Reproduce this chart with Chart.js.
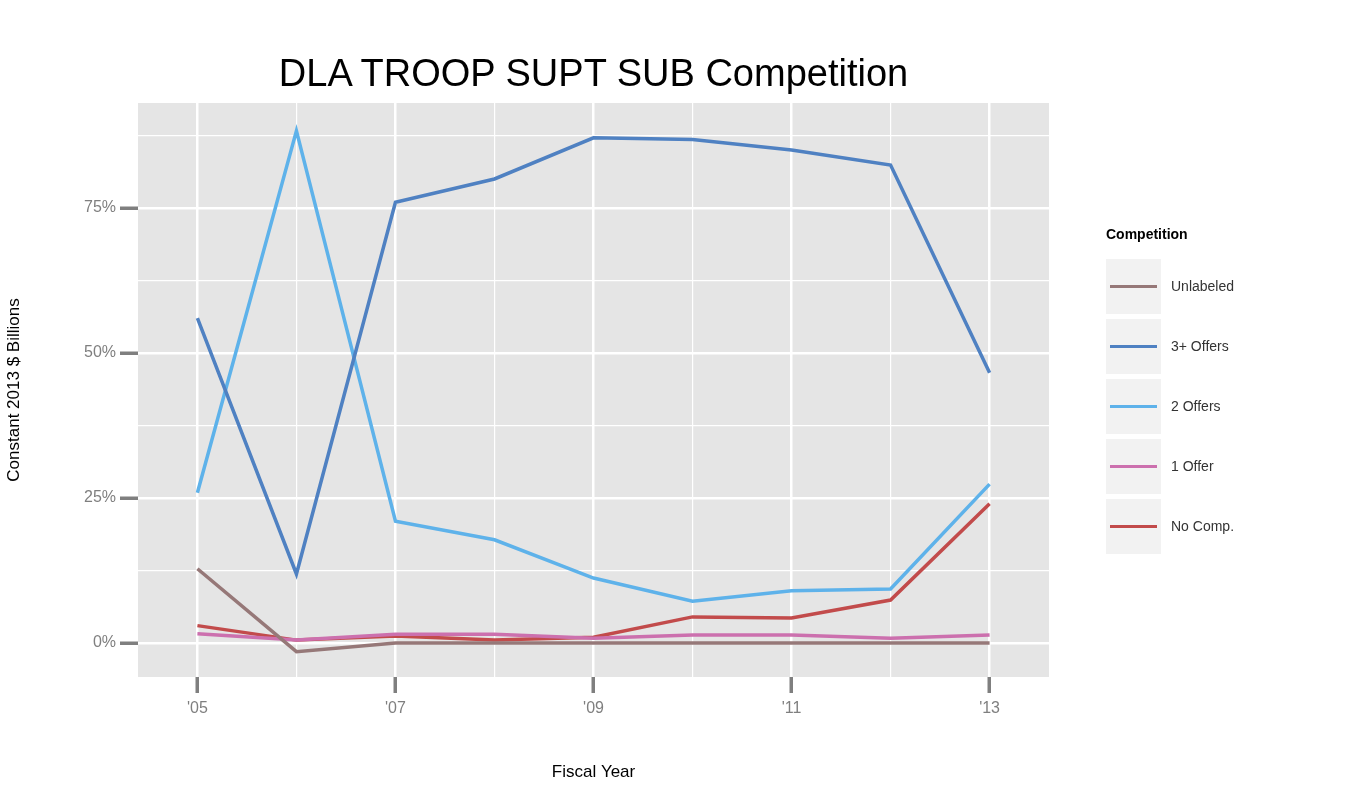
<!doctype html>
<html lang="en">
<head>
<meta charset="utf-8">
<title>DLA TROOP SUPT SUB Competition</title>
<script src="https://cdn.jsdelivr.net/npm/chart.js@4.4.1/dist/chart.umd.min.js"></script>
<style>
  body { margin:0; background:#fff; font-family:"Liberation Sans", Arial, sans-serif; }
  #wrap { position:relative; width:1350px; height:787px; }
  #title { position:absolute; left:138px; width:911px; top:52px; text-align:center; font-size:38px; color:#000; }
  #legend { position:absolute; left:1106px; top:226px; font-size:14px; color:#333; }
  #legend .hd { font-weight:bold; font-size:14px; color:#000; margin-bottom:14px; }
  #legend .it { display:flex; align-items:center; height:60px; }
  #legend .sw { width:55px; height:55px; background:#f2f2f2; position:relative; margin-right:10px; }
  #legend .sw i { position:absolute; left:4px; right:4px; top:26px; height:3.5px; }
</style>
</head>
<body>
<div id="wrap">
  <canvas id="c"></canvas>
  <div id="title">DLA TROOP SUPT SUB Competition</div>
  <div id="legend"><div class="hd">Competition</div></div>
</div>
<script>
// data
var years = [2005, 2006, 2007, 2008, 2009, 2010, 2011, 2012, 2013];
var unlabeled = [12.8, -1.5, 0, 0, 0, 0, 0, 0, 0];
var offers3 = [56, 11.9, 76, 80, 87.1, 86.8, 85, 82.4, 46.6];
var offers2 = [25.9, 88.3, 21, 17.8, 11.2, 7.2, 9, 9.3, 27.4];
var offer1 = [1.6, 0.5, 1.5, 1.5, 0.8, 1.4, 1.4, 0.8, 1.4];
var noComp = [3, 0.5, 1.2, 0.5, 1.0, 4.5, 4.3, 7.4, 24];
var yTicks = [0, 12.5, 25, 37.5, 50, 62.5, 75, 87.5];

var series = [
  {label:"Unlabeled", data:unlabeled, color:"#967878"},
  {label:"3+ Offers", data:offers3, color:"#4F81C2"},
  {label:"2 Offers", data:offers2, color:"#5EB2EA"},
  {label:"1 Offer", data:offer1, color:"#CC70AE"},
  {label:"No Comp.", data:noComp, color:"#C24B4B"}
];

var dsets = series.map(function(s){
  return {label:s.label, data:s.data.map(function(v,i){ return {x:years[i], y:v}; }),
    borderColor:s.color, backgroundColor:s.color, borderWidth:3.5, pointRadius:0, tension:0};
});

series.forEach(function(s){
  var d = document.createElement("div"); d.className = "it";
  d.innerHTML = '<div class="sw"><i style="background:' + s.color + '"></i></div>' + s.label;
  document.getElementById("legend").appendChild(d);
});

var bgPlugin = {
  id:"bg",
  beforeDraw:function(chart){
    var a = chart.chartArea, ctx = chart.ctx;
    ctx.save(); ctx.fillStyle = "#E5E5E5";
    ctx.fillRect(a.left, a.top, a.right-a.left, a.bottom-a.top);
    ctx.restore();
  }
};

var c = document.getElementById("c");
c.width = 1350; c.height = 787;
new Chart(c, {
  type:"line",
  data:{ datasets:dsets },
  plugins:[bgPlugin],
  options:{
    responsive:false, animation:false,
    layout:{ padding:{ left:0, right:301, top:103, bottom:0 } },
    plugins:{ legend:{display:false}, tooltip:{enabled:false} },
    scales:{
      x:{
        type:"linear", min:2004.4, max:2013.6,
        afterBuildTicks:function(ax){ ax.ticks = years.map(function(v){ return {value:v}; }); },
        afterFit:function(ax){ ax.height = 110; },
        border:{display:false},
        grid:{
          color:"#ffffff",
          lineWidth:function(ctx){ return ctx.tick && ctx.tick.value % 2 === 1 ? 2.5 : 1.2; },
          tickColor:function(ctx){ return ctx.tick && ctx.tick.value % 2 === 1 ? "#7f7f7f" : "rgba(0,0,0,0)"; },
          tickWidth:3.5, tickLength:16
        },
        ticks:{
          color:"#7f7f7f", font:{size:16, family:"Liberation Sans"}, maxRotation:0, autoSkip:false, padding:6,
          callback:function(v){ return v % 2 === 1 ? "'" + String(v).slice(2) : ""; }
        },
        title:{ display:true, text:"Fiscal Year", color:"#000", font:{size:17, family:"Liberation Sans"}, padding:{top:2} }
      },
      y:{
        min:-5.86, max:93.1,
        afterBuildTicks:function(ax){ ax.ticks = yTicks.map(function(v){ return {value:v}; }); },
        afterFit:function(ax){ ax.width = 138; },
        border:{display:false},
        grid:{
          color:"#ffffff",
          lineWidth:function(ctx){ return ctx.tick && ctx.tick.value % 25 === 0 ? 2.5 : 1.2; },
          tickColor:function(ctx){ return ctx.tick && ctx.tick.value % 25 === 0 ? "#7f7f7f" : "rgba(0,0,0,0)"; },
          tickWidth:3.5, tickLength:18
        },
        ticks:{
          color:"#7f7f7f", font:{size:16, family:"Liberation Sans"}, autoSkip:false, padding:4,
          callback:function(v){ return v % 25 === 0 ? v + "%" : ""; }
        },
        title:{ display:true, text:"Constant 2013 $ Billions", color:"#000", font:{size:17, family:"Liberation Sans"}, padding:{bottom:4} }
      }
    }
  }
});
</script>
</body>
</html>
